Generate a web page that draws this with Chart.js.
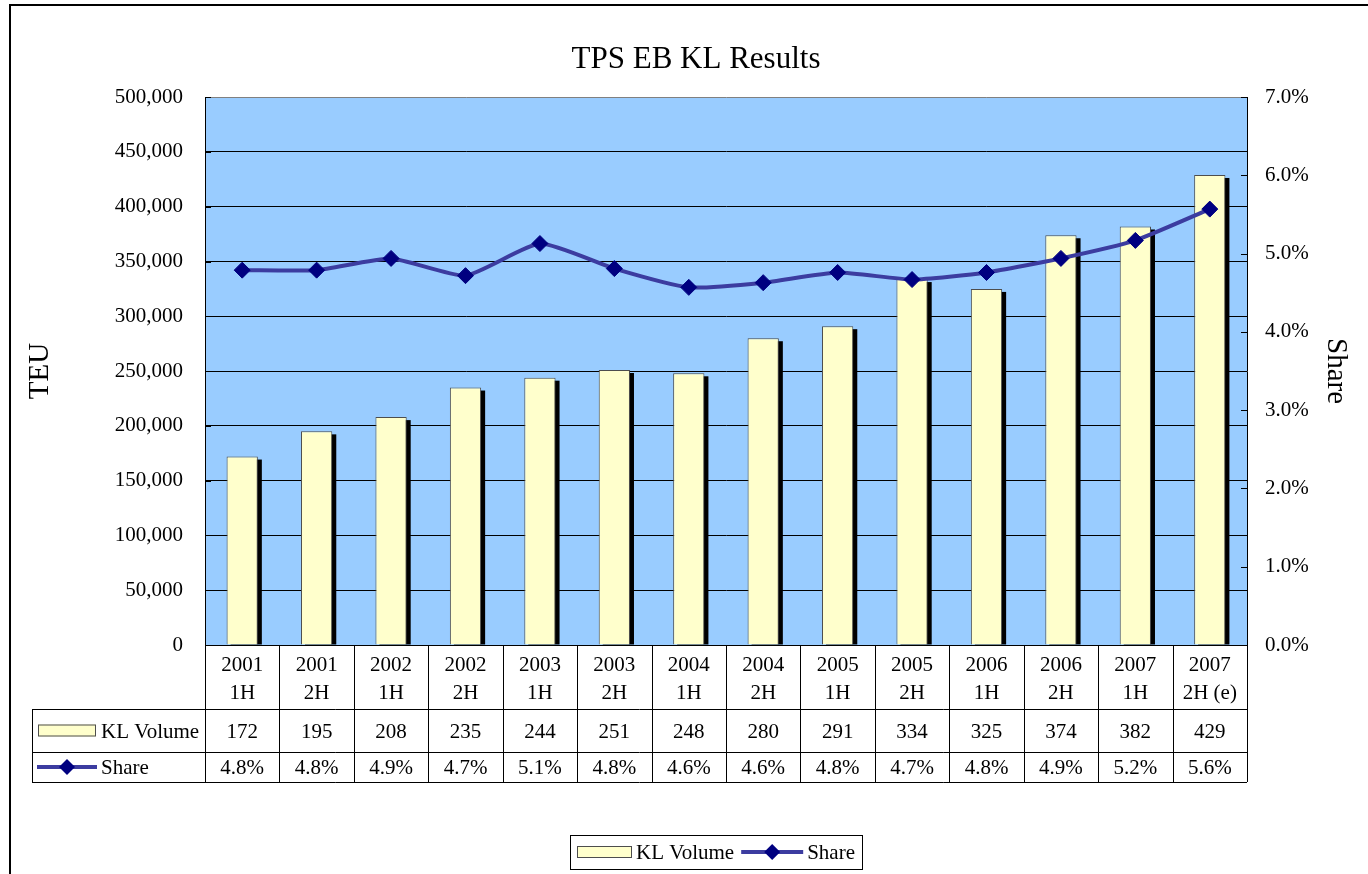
<!DOCTYPE html>
<html><head><meta charset="utf-8">
<script src="https://cdn.jsdelivr.net/npm/chart.js@4/dist/chart.umd.min.js"></script>
<style>html,body{margin:0;padding:0;background:#fff}canvas{display:block}</style>
</head><body>
<canvas id="c" width="1368" height="874"></canvas>
<script>
// ---- data ----
const years  = ['2001','2001','2002','2002','2003','2003','2004','2004','2005','2005','2006','2006','2007','2007'];
const halves = ['1H','2H','1H','2H','1H','2H','1H','2H','1H','2H','1H','2H','1H','2H (e)'];
const klVolume = [172000,195000,208000,235000,244000,251000,248000,280000,291000,334000,325000,374000,382000,429000];
const sharePct = [4.79,4.79,4.94,4.72,5.13,4.81,4.57,4.63,4.76,4.67,4.76,4.94,5.17,5.57];
const chartTitle = 'TPS EB KL Results';
const leftAxisTitle = 'TEU';
const rightAxisTitle = 'Share';
const seriesNames = ['KL Volume', 'Share'];

const FONT = '"Liberation Serif", "Times New Roman", serif';
Chart.defaults.font.family = FONT;
Chart.defaults.color = '#000';

const labels = years.map((y, i) => [y, halves[i]]);
const BAR_FILL = '#FFFFCC', BAR_EDGE = '#4D4D4D';
const LINE_COL = '#3C3CA0', PT_COL = '#000080';

function diamond(ctx, x, y, r) {
  ctx.beginPath();
  ctx.moveTo(x, y - r); ctx.lineTo(x + r, y); ctx.lineTo(x, y + r); ctx.lineTo(x - r, y); ctx.closePath();
  ctx.fillStyle = PT_COL; ctx.fill();
}
function barKey(ctx, x, y, w, h) {
  ctx.fillStyle = BAR_FILL; ctx.fillRect(x, y, w, h);
  ctx.strokeStyle = BAR_EDGE; ctx.lineWidth = 1; ctx.strokeRect(x + 0.5, y + 0.5, w - 1, h - 1);
}
function lineKey(ctx, x, y, w) {
  ctx.strokeStyle = LINE_COL; ctx.lineWidth = 4;
  ctx.beginPath(); ctx.moveTo(x, y); ctx.lineTo(x + w, y); ctx.stroke();
  diamond(ctx, x + w / 2, y, 8);
}

const deco = {
  id: 'deco',
  beforeDraw(chart) {
    const {ctx, chartArea: a} = chart;
    ctx.save();
    ctx.fillStyle = '#fff'; ctx.fillRect(0, 0, chart.width, chart.height);
    ctx.fillStyle = '#99CCFF'; ctx.fillRect(a.left, a.top, a.right - a.left, a.bottom - a.top);
    ctx.fillStyle = '#000';
    ctx.fillRect(9, 4, 2, chart.height - 4);
    ctx.fillRect(9, 4, chart.width - 9, 2);
    ctx.restore();
  },
  beforeDatasetsDraw(chart) {
    const {ctx, chartArea: a} = chart;
    const meta = chart.getDatasetMeta(0);
    ctx.save();
    ctx.beginPath(); ctx.rect(a.left, a.top, a.right - a.left, a.bottom - a.top); ctx.clip();
    ctx.fillStyle = '#000';
    meta.data.forEach(b => {
      const p = b.getProps(['x', 'y', 'width', 'base'], true);
      ctx.fillRect(p.x - p.width / 2 + 4, p.y + 3, p.width, p.base - p.y - 3);
    });
    ctx.restore();
  },
  afterDraw(chart) {
    const {ctx, chartArea: a} = chart;
    const xs = chart.scales.x, ys = chart.scales.y, y1 = chart.scales.y1;
    ctx.save();
    // inside tick marks
    ctx.strokeStyle = '#000'; ctx.lineWidth = 1;
    ys.ticks.forEach((t, i) => {
      const py = Math.round(ys.getPixelForTick(i)) + 0.5;
      ctx.beginPath(); ctx.moveTo(a.left, py); ctx.lineTo(a.left + 6, py); ctx.stroke();
    });
    y1.ticks.forEach((t, i) => {
      const py = Math.round(y1.getPixelForTick(i)) + 0.5;
      ctx.beginPath(); ctx.moveTo(a.right - 6, py); ctx.lineTo(a.right, py); ctx.stroke();
    });
    // data table
    const n = labels.length;
    const bounds = [];
    for (let i = 0; i <= n; i++) {
      bounds.push(i === 0 ? a.left : i === n ? a.right : (xs.getPixelForTick(i - 1) + xs.getPixelForTick(i)) / 2);
    }
    const r0 = a.bottom, r1 = a.bottom + 64, r2 = a.bottom + 107, r3 = a.bottom + 137;
    const tLeft = 32;
    ctx.strokeStyle = '#000'; ctx.lineWidth = 1;
    ctx.beginPath();
    bounds.forEach(bx => { const x = Math.round(bx) + 0.5; ctx.moveTo(x, r0); ctx.lineTo(x, r3); });
    ctx.moveTo(tLeft + 0.5, r1); ctx.lineTo(tLeft + 0.5, r3);
    [r1, r2, r3].forEach(r => { ctx.moveTo(tLeft, r + 0.5); ctx.lineTo(a.right, r + 0.5); });
    ctx.stroke();
    ctx.fillStyle = '#000';
    ctx.font = '21px ' + FONT;
    ctx.textAlign = 'center'; ctx.textBaseline = 'middle';
    for (let i = 0; i < n; i++) {
      const cx = xs.getPixelForTick(i);
      ctx.fillText(String(Math.round(klVolume[i] / 1000)), cx, (r1 + r2) / 2 + 2);
      ctx.fillText(sharePct[i].toFixed(1) + '%', cx, (r2 + r3) / 2 + 1);
    }
    // table legend keys
    barKey(ctx, 38, (r1 + r2) / 2 - 6, 58, 12);
    lineKey(ctx, 37, (r2 + r3) / 2, 60);
    ctx.fillStyle = '#000'; ctx.textAlign = 'left';
    ctx.fillText(seriesNames[0], 101, (r1 + r2) / 2 + 2);
    ctx.fillText(seriesNames[1], 101, (r2 + r3) / 2 + 1);
    // bottom legend
    const L = 570, T = 835, H = 34, cy = T + H / 2;
    barKey(ctx, L + 7, cy - 6, 55, 12);
    let x = L + 66;
    ctx.fillStyle = '#000';
    ctx.fillText(seriesNames[0], x, cy + 1);
    x += ctx.measureText(seriesNames[0]).width + 7;
    lineKey(ctx, x, cy, 62);
    x += 66;
    ctx.fillStyle = '#000';
    ctx.fillText(seriesNames[1], x, cy + 1);
    x += ctx.measureText(seriesNames[1]).width + 7;
    ctx.strokeStyle = '#000'; ctx.lineWidth = 1;
    ctx.strokeRect(L + 0.5, T + 0.5, Math.round(x - L), H);
    ctx.restore();
  }
};

new Chart(document.getElementById('c'), {
  data: {
    labels,
    datasets: [
      {
        type: 'bar', label: seriesNames[0], data: klVolume, yAxisID: 'y', order: 1,
        backgroundColor: BAR_FILL, borderColor: BAR_EDGE, borderWidth: 1,
        barPercentage: 0.42, categoryPercentage: 1
      },
      {
        type: 'line', label: seriesNames[1], data: sharePct, yAxisID: 'y1', order: 0,
        borderColor: LINE_COL, borderWidth: 4, tension: 0.18,
        pointStyle: 'rectRot', pointRadius: 8, pointBackgroundColor: PT_COL,
        pointBorderColor: PT_COL, pointBorderWidth: 1
      }
    ]
  },
  options: {
    responsive: false, animation: false, devicePixelRatio: 1,
    layout: { padding: { left: 24, right: 0, top: 0, bottom: 0 } },
    plugins: {
      legend: { display: false },
      tooltip: { enabled: false },
      title: {
        display: true, text: chartTitle, color: '#000',
        font: { family: FONT, size: 31, weight: 'normal', lineHeight: 1.2 },
        padding: { top: 41, bottom: 19 }
      }
    },
    scales: {
      x: {
        type: 'category', position: 'bottom',
        grid: { display: false, drawTicks: false },
        border: { display: true, color: '#000', width: 1 },
        ticks: { font: { size: 21, lineHeight: 1.32 }, padding: 7, maxRotation: 0, autoSkip: false, color: '#000' },
        afterFit(s) { s.height = 229; }
      },
      y: {
        type: 'linear', position: 'left', min: 0, max: 500000,
        grid: { color: c => (c.tick && c.tick.value === 500000) ? '#808080' : '#000', lineWidth: 1, drawTicks: false },
        border: { display: true, color: '#000', width: 1 },
        ticks: { stepSize: 50000, font: { size: 21 }, padding: 22, color: '#000',
                 callback: v => v.toLocaleString('en-US') },
        title: { display: true, text: leftAxisTitle, color: '#000',
                 font: { size: 29, lineHeight: 1 }, padding: { top: 2, bottom: 0 } },
        afterFit(s) { s.width = 181; }
      },
      y1: {
        type: 'linear', position: 'right', min: 0, max: 7,
        grid: { drawOnChartArea: false, drawTicks: false },
        border: { display: true, color: '#000', width: 1 },
        ticks: { stepSize: 1, font: { size: 21 }, padding: 18, color: '#000',
                 callback: v => v.toFixed(1) + '%' },
        title: { display: true, text: rightAxisTitle, color: '#000',
                 font: { size: 29, lineHeight: 1 }, padding: { top: 18, bottom: 0 } },
        afterFit(s) { s.width = 121; }
      }
    }
  },
  plugins: [deco]
});
</script>
</body></html>
